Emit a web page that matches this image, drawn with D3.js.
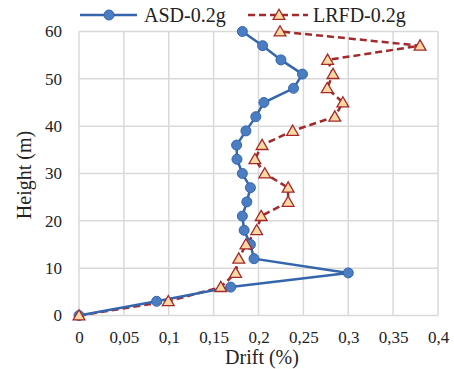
<!DOCTYPE html>
<html>
<head>
<meta charset="utf-8">
<script src="https://cdn.jsdelivr.net/npm/d3@7"></script>
<style>
  body { margin: 0; background: #fff; }
  svg { display: block; font-family: "Liberation Serif", "Times New Roman", serif; }
</style>
</head>
<body>
<div id="chart"></div>
<script>
// Heights of the floors (m)
const heights = [0, 3, 6, 9, 12, 15, 18, 21, 24, 27, 30, 33, 36, 39, 42, 45, 48, 51, 54, 57, 60];

// Drift (%) for each height
const asdDrift = [0, 0.0865, 0.169, 0.300, 0.195, 0.191, 0.184, 0.182, 0.187, 0.191, 0.182,
    0.176, 0.1756, 0.186, 0.197, 0.206, 0.239, 0.249, 0.225, 0.2046, 0.182];
const lrfdDrift = [0, 0.0995, 0.158, 0.1745, 0.178, 0.186, 0.198, 0.203, 0.233, 0.233, 0.207,
    0.196, 0.204, 0.238, 0.285, 0.294, 0.2765, 0.283, 0.277, 0.380, 0.224];

const xTicks = [0, 0.05, 0.1, 0.15, 0.2, 0.25, 0.3, 0.35, 0.4];
const yTicks = [0, 10, 20, 30, 40, 50, 60];
const seriesNames = ["ASD-0.2g", "LRFD-0.2g"];

const width = 454;
const height = 369;
const marginTop = 31.5;
const marginRight = 16;
const marginBottom = 53.5;
const marginLeft = 79;

const blueLine = "#3566ad";
const blueFill = "#4a7dc2";
const redLine = "#a3292b";
const triFill = "#fcd9a2";

const svg = d3.select("#chart")
    .append("svg")
    .attr("width", width)
    .attr("height", height);

const x = d3.scaleLinear()
    .domain([0, 0.4])
    .range([marginLeft, width - marginRight]);

const y = d3.scaleLinear()
    .domain([0, 60])
    .range([height - marginBottom, marginTop]);

const fmt = (d) => String(d).replace(".", ",");

// Gridlines
svg.append("g")
    .selectAll("line")
    .data(xTicks)
    .join("line")
    .attr("x1", (d) => x(d))
    .attr("x2", (d) => x(d))
    .attr("y1", y(0))
    .attr("y2", y(60))
    .attr("stroke", "#d9d9d9")
    .attr("stroke-width", 1.5);

svg.append("g")
    .selectAll("line")
    .data(yTicks)
    .join("line")
    .attr("x1", x(0))
    .attr("x2", x(0.4))
    .attr("y1", (d) => y(d))
    .attr("y2", (d) => y(d))
    .attr("stroke", "#d9d9d9")
    .attr("stroke-width", 1.5);

// Axes (labels only)
svg.append("g")
    .attr("transform", `translate(0,${y(0)})`)
    .call(d3.axisBottom(x).tickValues(xTicks).tickFormat(fmt).tickSize(0).tickPadding(15))
    .call((g) => g.select(".domain").remove())
    .call((g) => g.selectAll("text")
        .attr("font-family", "Liberation Serif")
        .attr("font-size", 17)
        .attr("fill", "#222"));

svg.append("g")
    .attr("transform", `translate(${x(0)},0)`)
    .call(d3.axisLeft(y).tickValues(yTicks).tickSize(0).tickPadding(17))
    .call((g) => g.select(".domain").remove())
    .call((g) => g.selectAll("text")
        .attr("font-family", "Liberation Serif")
        .attr("font-size", 17)
        .attr("fill", "#222"));

// Axis titles
svg.append("text")
    .attr("x", 262)
    .attr("y", 364)
    .attr("text-anchor", "middle")
    .attr("font-size", 20)
    .attr("fill", "#222")
    .text("Drift (%)");

svg.append("text")
    .attr("transform", `translate(31,175) rotate(-90)`)
    .attr("text-anchor", "middle")
    .attr("font-size", 20)
    .attr("fill", "#222")
    .text("Height (m)");

const asdData = heights.map((h, i) => ({ h, d: asdDrift[i] }));
const lrfdData = heights.map((h, i) => ({ h, d: lrfdDrift[i] }));

const line = d3.line()
    .x((p) => x(p.d))
    .y((p) => y(p.h));

const triangle = d3.symbol().type(d3.symbolTriangle).size(60);

// LRFD series (dashed red, triangles)
svg.append("path")
    .datum(lrfdData)
    .attr("d", line)
    .attr("fill", "none")
    .attr("stroke", redLine)
    .attr("stroke-width", 2.5)
    .attr("stroke-dasharray", "7,4");

// ASD series (blue, circles)
svg.append("path")
    .datum(asdData)
    .attr("d", line)
    .attr("fill", "none")
    .attr("stroke", blueLine)
    .attr("stroke-width", 2.5);

svg.append("g")
    .selectAll("circle")
    .data(asdData)
    .join("circle")
    .attr("cx", (p) => x(p.d))
    .attr("cy", (p) => y(p.h))
    .attr("r", 5)
    .attr("fill", blueFill)
    .attr("stroke", blueLine)
    .attr("stroke-width", 1);

svg.append("g")
    .selectAll("path")
    .data(lrfdData)
    .join("path")
    .attr("transform", (p) => `translate(${x(p.d)},${y(p.h) + 1})`)
    .attr("d", triangle)
    .attr("fill", triFill)
    .attr("stroke", redLine)
    .attr("stroke-width", 1.3);

// Legend
const legY = 15;
const legend = svg.append("g");
legend.append("line")
    .attr("x1", 80).attr("x2", 137)
    .attr("y1", legY).attr("y2", legY)
    .attr("stroke", blueLine)
    .attr("stroke-width", 2.5);
legend.append("circle")
    .attr("cx", 109).attr("cy", legY).attr("r", 5)
    .attr("fill", blueFill)
    .attr("stroke", blueLine);
legend.append("text")
    .attr("x", 144).attr("y", legY + 7)
    .attr("font-size", 20)
    .attr("fill", "#222")
    .text(seriesNames[0]);

legend.append("line")
    .attr("x1", 248).attr("x2", 308)
    .attr("y1", legY).attr("y2", legY)
    .attr("stroke", redLine)
    .attr("stroke-width", 2.5)
    .attr("stroke-dasharray", "7,4");
legend.append("path")
    .attr("transform", `translate(279,${legY + 1})`)
    .attr("d", triangle)
    .attr("fill", triFill)
    .attr("stroke", redLine)
    .attr("stroke-width", 1.3);
legend.append("text")
    .attr("x", 313).attr("y", legY + 7)
    .attr("font-size", 20)
    .attr("fill", "#222")
    .text(seriesNames[1]);
</script>
</body>
</html>
